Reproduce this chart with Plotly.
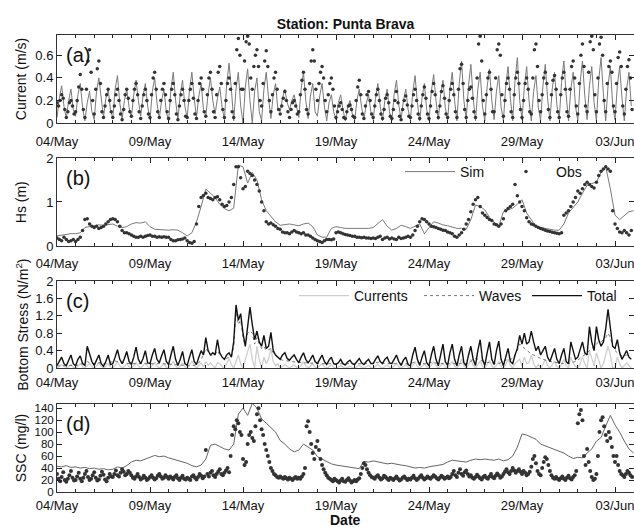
import pandas as pd
import plotly.graph_objects as go

# ---------------- data ----------------
# (a) current speed, simulated every 3 h, observed every 2 h  (m/s)
cur_sim = [
 0.05,0.22,0.33,0.15,0.04,0.20,0.30,0.12,
 0.06,0.25,0.35,0.14,0.02,0.18,0.28,0.10,
 0.03,0.28,0.40,0.20,0.05,0.22,0.30,0.12,
 0.04,0.30,0.42,0.18,0.03,0.20,0.30,0.14,
 0.05,0.25,0.38,0.20,0.06,0.24,0.35,0.15,
 0.03,0.28,0.40,0.18,0.04,0.20,0.30,0.10,
 0.02,0.30,0.45,0.20,0.03,0.25,0.38,0.15,
 0.04,0.30,0.45,0.22,0.05,0.24,0.35,0.12,
 0.06,0.26,0.40,0.20,0.08,0.22,0.32,0.14,
 0.03,0.35,0.53,0.30,0.02,0.30,0.45,0.15,
 0.00,0.32,0.48,0.20,0.00,0.28,0.40,0.10,
 0.02,0.30,0.45,0.22,0.04,0.25,0.35,0.12,
 0.10,0.22,0.30,0.18,0.12,0.20,0.25,0.15,
 0.05,0.30,0.45,0.20,0.04,0.24,0.35,0.10,
 0.06,0.24,0.35,0.15,0.02,0.18,0.25,0.10,
 0.03,0.18,0.25,0.12,0.02,0.14,0.20,0.08,
 0.02,0.20,0.30,0.14,0.03,0.17,0.25,0.10,
 0.03,0.22,0.35,0.15,0.02,0.20,0.30,0.10,
 0.02,0.25,0.38,0.16,0.03,0.20,0.30,0.12,
 0.03,0.27,0.42,0.18,0.02,0.22,0.35,0.12,
 0.02,0.28,0.43,0.20,0.03,0.25,0.38,0.14,
 0.02,0.30,0.45,0.20,0.02,0.35,0.55,0.20,
 0.03,0.33,0.52,0.22,0.02,0.30,0.45,0.15,
 0.02,0.32,0.48,0.20,0.03,0.28,0.42,0.14,
 0.02,0.33,0.50,0.22,0.02,0.38,0.58,0.20,
 0.03,0.32,0.50,0.20,0.02,0.28,0.42,0.14,
 0.02,0.33,0.52,0.22,0.02,0.30,0.45,0.16,
 0.03,0.36,0.55,0.25,0.02,0.30,0.45,0.15,
 0.02,0.36,0.55,0.24,0.03,0.33,0.50,0.18,
 0.02,0.38,0.58,0.26,0.02,0.33,0.50,0.16,
 0.03,0.33,0.50,0.22,0.02,0.30,0.45,0.15,
]
cur_obs = [
 0.18,0.15,0.20,0.25,0.22,0.12,0.05,0.10,0.18,0.20,0.15,0.08,
 0.10,0.20,0.32,0.43,0.30,0.12,0.05,0.30,0.55,0.65,0.45,0.20,
 0.08,0.30,0.48,0.55,0.35,0.10,0.05,0.15,0.25,0.30,0.20,0.10,
 0.05,0.15,0.25,0.30,0.20,0.08,0.03,0.12,0.25,0.30,0.22,0.10,
 0.06,0.20,0.30,0.35,0.25,0.10,0.04,0.15,0.25,0.30,0.20,0.08,
 0.05,0.25,0.40,0.45,0.30,0.10,0.05,0.20,0.30,0.35,0.25,0.10,
 0.04,0.20,0.30,0.35,0.25,0.08,0.03,0.15,0.25,0.30,0.20,0.06,
 0.05,0.20,0.30,0.35,0.22,0.08,0.04,0.20,0.35,0.40,0.30,0.10,
 0.06,0.25,0.40,0.45,0.30,0.10,0.05,0.25,0.45,0.50,0.35,0.12,
 0.05,0.20,0.35,0.40,0.30,0.10,0.05,0.35,0.65,0.75,0.60,0.30,
 0.30,0.55,0.72,0.77,0.70,0.40,0.30,0.50,0.60,0.65,0.50,0.20,
 0.15,0.35,0.55,0.64,0.50,0.20,0.10,0.25,0.40,0.45,0.30,0.12,
 0.08,0.15,0.22,0.28,0.20,0.10,0.05,0.12,0.18,0.20,0.15,0.08,
 0.10,0.25,0.38,0.45,0.30,0.12,0.08,0.35,0.55,0.65,0.55,0.30,
 0.20,0.35,0.45,0.50,0.40,0.20,0.10,0.25,0.35,0.40,0.30,0.15,
 0.05,0.10,0.15,0.18,0.12,0.05,0.04,0.10,0.15,0.16,0.12,0.06,
 0.05,0.20,0.32,0.38,0.25,0.08,0.04,0.15,0.25,0.28,0.20,0.08,
 0.05,0.15,0.25,0.30,0.20,0.08,0.04,0.12,0.22,0.25,0.18,0.06,
 0.04,0.12,0.20,0.28,0.18,0.06,0.03,0.12,0.20,0.24,0.16,0.06,
 0.05,0.15,0.25,0.30,0.20,0.08,0.04,0.15,0.25,0.32,0.22,0.08,
 0.04,0.15,0.28,0.35,0.25,0.10,0.05,0.15,0.28,0.33,0.22,0.08,
 0.05,0.20,0.30,0.35,0.25,0.10,0.05,0.30,0.48,0.52,0.35,0.12,
 0.05,0.20,0.30,0.32,0.22,0.10,0.05,0.40,0.70,0.77,0.55,0.20,
 0.08,0.25,0.40,0.45,0.30,0.10,0.10,0.40,0.65,0.70,0.60,0.25,
 0.06,0.20,0.35,0.40,0.30,0.10,0.05,0.25,0.40,0.45,0.35,0.12,
 0.05,0.20,0.35,0.40,0.30,0.10,0.08,0.40,0.65,0.70,0.50,0.20,
 0.10,0.25,0.40,0.45,0.35,0.12,0.05,0.25,0.38,0.42,0.30,0.10,
 0.05,0.25,0.40,0.45,0.30,0.10,0.06,0.30,0.50,0.55,0.40,0.15,
 0.08,0.35,0.60,0.70,0.50,0.15,0.10,0.45,0.72,0.77,0.65,0.25,
 0.10,0.40,0.70,0.76,0.60,0.20,0.10,0.35,0.50,0.55,0.45,0.15,
 0.10,0.35,0.58,0.63,0.50,0.15,0.08,0.30,0.50,0.56,0.40,0.12,
]

# (b) significant wave height: simulated every 6 h, observed every 3 h (m)
hs_sim = [
 0.23,0.25,0.27,0.28, 0.28,0.30,0.42,0.44, 0.46,0.48,0.47,0.49,
 0.50,0.45,0.42,0.44, 0.50,0.53,0.52,0.55, 0.44,0.38,0.37,0.36,
 0.36,0.37,0.36,0.30, 0.23,0.30,0.55,0.90, 1.29,1.20,1.10,0.95,
 0.85,0.80,0.86,1.84, 1.80,1.43,1.67,1.50, 1.05,0.80,0.67,0.55,
 0.47,0.48,0.50,0.48, 0.46,0.50,0.52,0.44, 0.25,0.20,0.20,0.40,
 0.44,0.42,0.40,0.40, 0.40,0.41,0.40,0.40, 0.42,0.50,0.60,0.45,
 0.36,0.40,0.47,0.44, 0.40,0.45,0.50,0.28, 0.42,0.55,0.52,0.48,
 0.46,0.43,0.40,0.40, 0.38,0.60,0.93,0.90, 0.82,0.65,0.55,0.44,
 0.78,0.82,0.86,0.95, 1.05,0.75,0.60,0.44, 0.42,0.40,0.38,0.36,
 0.36,0.50,0.75,0.88, 1.00,1.20,1.38,1.42, 1.45,1.67,1.80,1.30,
 0.70,0.60,0.70,0.78, 0.80,
]
hs_obs = [
 0.18,0.15,0.12,0.20,0.15,0.10,0.12,0.15,
 0.10,0.15,0.20,0.35,0.60,0.62,0.50,0.45,
 0.42,0.45,0.40,0.42,0.45,0.50,0.55,0.60,
 0.62,0.60,0.55,0.45,0.35,0.30,0.30,0.28,
 0.25,0.22,0.20,0.20,0.22,0.20,0.22,0.24,
 0.25,0.22,0.22,0.20,0.21,0.20,0.21,0.20,
 0.20,0.15,0.12,0.12,0.14,0.15,0.16,0.18,
 0.12,0.08,0.06,0.10,0.50,0.90,1.10,1.15,
 1.20,1.10,1.08,1.05,1.10,1.12,1.05,0.95,
 0.90,0.92,1.00,1.10,1.40,1.80,1.80,1.55,
 1.30,1.35,1.70,1.65,1.60,1.50,1.40,1.25,
 1.00,0.80,0.55,0.50,0.52,0.48,0.45,0.40,
 0.38,0.32,0.30,0.30,0.28,0.32,0.35,0.32,
 0.30,0.28,0.30,0.25,0.25,0.22,0.18,0.15,
 0.12,0.10,0.08,0.12,0.15,0.15,0.14,0.16,
 0.30,0.32,0.30,0.28,0.26,0.25,0.24,0.22,
 0.22,0.20,0.20,0.19,0.20,0.18,0.18,0.17,
 0.18,0.17,0.20,0.22,0.15,0.18,0.20,0.16,
 0.18,0.16,0.15,0.20,0.17,0.18,0.20,0.22,
 0.20,0.25,0.35,0.45,0.55,0.62,0.60,0.55,
 0.50,0.45,0.44,0.42,0.40,0.38,0.36,0.35,
 0.32,0.30,0.28,0.22,0.20,0.25,0.30,0.38,
 0.50,0.60,0.78,0.95,1.05,1.10,0.90,0.75,
 0.70,0.65,0.60,0.58,0.50,0.48,0.45,0.50,
 0.62,0.80,0.85,0.90,0.95,1.40,1.14,1.00,
 0.90,0.80,0.64,0.55,0.50,0.48,0.45,0.42,
 0.40,0.38,0.36,0.34,0.33,0.31,0.30,0.29,
 0.28,0.30,0.70,0.75,0.80,0.90,1.00,1.10,
 1.25,1.20,1.30,1.40,1.45,1.40,1.35,1.32,
 1.45,1.60,1.70,1.75,1.80,1.75,1.70,0.80,
 0.50,0.40,0.32,0.30,0.35,0.30,0.25,0.35,
]

# (c) bottom stress components every 3 h (N/m2)
tau_cur = [
 0,0.03,0.08,0.03,0,0.03,0.08,0.02,
 0,0.04,0.10,0.03,0,0.05,0.12,0.03,
 0,0.05,0.12,0.04,0,0.04,0.10,0.03,
 0,0.06,0.14,0.05,0,0.04,0.10,0.03,
 0,0.05,0.12,0.05,0,0.05,0.12,0.04,
 0,0.06,0.13,0.05,0,0.04,0.10,0.02,
 0,0.07,0.16,0.05,0,0.05,0.12,0.03,
 0,0.07,0.16,0.06,0,0.05,0.12,0.03,
 0.15,0.06,0.12,0.05,0,0.12,0.10,0.03,
 0,0.10,0.22,0.08,0,0.15,0.30,0.10,
 0,0.20,0.35,0.55,0.20,0,0.50,0.20,
 0,0.25,0.10,0.20,0.45,0.15,0.05,0.10,
 0,0.04,0.08,0.04,0,0.04,0.07,0.02,
 0,0.06,0.15,0.05,0,0.04,0.10,0.02,
 0,0.05,0.10,0.03,0,0.03,0.07,0.02,
 0,0.02,0.05,0.02,0,0.02,0.04,0.01,
 0,0.03,0.07,0.02,0,0.03,0.06,0.01,
 0,0.04,0.09,0.03,0,0.03,0.07,0.02,
 0,0.05,0.11,0.03,0,0.03,0.08,0.02,
 0,0.06,0.14,0.04,0,0.04,0.10,0.03,
 0,0.06,0.15,0.05,0,0.05,0.12,0.03,
 0,0.07,0.16,0.05,0,0.07,0.20,0.05,
 0,0.08,0.20,0.06,0,0.07,0.16,0.04,
 0,0.08,0.18,0.05,0,0.06,0.14,0.04,
 0,0.08,0.20,0.06,0,0.10,0.15,0.20,
 0.05,0.25,0.10,0.12,0.30,0.10,0,0.08,
 0,0.08,0.20,0.06,0,0.07,0.16,0.04,
 0,0.08,0.20,0.06,0,0.25,0.12,0.04,
 0,0.10,0.25,0.10,0,0.40,0.20,0.05,
 0.35,0.15,0,0.10,0.30,0.50,0.30,0,
 0,0.25,0.10,0,0.05,0.12,0.05,0,
]
tau_wav = [
 0.05,0.05,0.06,0.06,0.05,0.05,0.06,0.06,
 0.06,0.07,0.08,0.10,0.12,0.15,0.12,0.10,
 0.10,0.10,0.12,0.12,0.10,0.10,0.12,0.14,
 0.15,0.16,0.15,0.14,0.12,0.12,0.10,0.10,
 0.10,0.10,0.11,0.10,0.10,0.10,0.10,0.10,
 0.10,0.10,0.10,0.10,0.10,0.10,0.10,0.09,
 0.09,0.09,0.08,0.08,0.07,0.07,0.06,0.06,
 0.05,0.05,0.05,0.06,0.08,0.12,0.20,0.30,
 0.45,0.38,0.30,0.28,0.30,0.40,0.30,0.25,
 0.20,0.22,0.25,0.25,0.50,1.30,1.00,1.10,
 0.70,0.50,0.80,0.85,0.80,0.55,0.70,0.55,
 0.45,0.50,0.40,0.42,0.45,0.35,0.30,0.25,
 0.20,0.18,0.17,0.16,0.15,0.15,0.14,0.14,
 0.13,0.13,0.12,0.12,0.12,0.11,0.11,0.10,
 0.10,0.10,0.10,0.10,0.09,0.09,0.09,0.09,
 0.10,0.10,0.10,0.10,0.10,0.10,0.10,0.10,
 0.10,0.10,0.10,0.10,0.10,0.10,0.10,0.10,
 0.12,0.12,0.13,0.14,0.12,0.10,0.10,0.10,
 0.10,0.10,0.10,0.10,0.10,0.10,0.10,0.10,
 0.10,0.12,0.14,0.14,0.12,0.10,0.10,0.10,
 0.12,0.13,0.12,0.12,0.11,0.10,0.10,0.10,
 0.10,0.10,0.10,0.10,0.10,0.10,0.10,0.10,
 0.10,0.12,0.15,0.20,0.22,0.20,0.18,0.15,
 0.14,0.13,0.12,0.12,0.11,0.10,0.10,0.12,
 0.15,0.18,0.20,0.20,0.22,0.30,0.40,0.55,
 0.50,0.45,0.40,0.35,0.32,0.30,0.27,0.25,
 0.22,0.20,0.18,0.16,0.15,0.14,0.13,0.12,
 0.12,0.11,0.10,0.10,0.10,0.12,0.13,0.15,
 0.18,0.22,0.25,0.30,0.35,0.40,0.45,0.50,
 0.55,0.60,0.60,0.65,0.70,0.80,0.70,0.50,
 0.40,0.35,0.30,0.28,0.28,0.30,0.30,0.30,
]
tau_tot = [
 0.06,0.15,0.25,0.10,0.05,0.18,0.30,0.10,
 0.05,0.20,0.28,0.10,0.06,0.50,0.30,0.15,
 0.06,0.20,0.30,0.10,0.04,0.15,0.30,0.08,
 0.10,0.25,0.42,0.20,0.10,0.22,0.38,0.15,
 0.08,0.25,0.48,0.20,0.10,0.22,0.40,0.12,
 0.10,0.30,0.45,0.20,0.12,0.28,0.42,0.15,
 0.08,0.30,0.50,0.20,0.06,0.20,0.38,0.10,
 0.06,0.25,0.42,0.15,0.08,0.25,0.40,0.30,
 0.70,0.40,0.30,0.35,0.30,0.65,0.35,0.25,
 0.20,0.30,0.35,0.25,0.60,1.45,1.10,1.25,
 0.80,0.50,0.90,1.40,1.00,0.65,0.85,0.60,
 0.50,0.75,0.45,0.50,0.82,0.40,0.30,0.25,
 0.20,0.30,0.35,0.22,0.18,0.25,0.30,0.20,
 0.12,0.25,0.35,0.20,0.12,0.20,0.30,0.15,
 0.10,0.20,0.30,0.15,0.08,0.18,0.25,0.10,
 0.08,0.12,0.20,0.10,0.07,0.14,0.18,0.10,
 0.08,0.15,0.22,0.12,0.08,0.15,0.20,0.10,
 0.10,0.20,0.28,0.15,0.10,0.20,0.25,0.12,
 0.10,0.20,0.30,0.15,0.06,0.18,0.25,0.08,
 0.05,0.30,0.48,0.20,0.06,0.25,0.40,0.12,
 0.05,0.30,0.50,0.20,0.05,0.30,0.55,0.15,
 0.06,0.35,0.55,0.20,0.05,0.30,0.50,0.12,
 0.05,0.30,0.50,0.20,0.06,0.40,0.65,0.20,
 0.06,0.35,0.60,0.20,0.08,0.40,0.62,0.20,
 0.05,0.25,0.45,0.15,0.10,0.30,0.45,0.75,
 0.55,0.80,0.55,0.60,0.85,0.60,0.40,0.50,
 0.30,0.40,0.50,0.25,0.15,0.30,0.45,0.20,
 0.10,0.30,0.45,0.15,0.10,0.60,0.40,0.20,
 0.25,0.45,0.60,0.35,0.30,0.95,0.60,0.40,
 0.95,0.65,0.50,0.60,0.90,1.35,0.90,0.50,
 0.45,0.65,0.35,0.20,0.30,0.40,0.25,0.20,
]

# (d) suspended sediment concentration: simulated every 6 h, observed every 2 h (mg/l)
ssc_sim = [
 43,42,44,41, 42,40,41,39, 40,38,39,37, 38,42,40,44,
 50,53,52,55, 58,61,59,60, 57,55,53,50, 48,44,42,45,
 55,78,80,76, 72,70,80,130, 140,128,148,140, 122,115,108,100,
 86,80,72,67, 70,80,75,70, 59,55,51,47, 45,44,42,41,
 40,39,51,50, 52,50,49,47, 48,46,45,44, 42,40,41,40,
 42,43,44,46, 50,53,52,51, 50,53,55,54, 55,54,53,55,
 52,54,60,75, 97,95,92,88, 80,77,74,71, 68,65,60,56,
 58,57,65,72, 85,91,110,128, 112,100,85,72, 65,
]
ssc_obs = [
 30,22,18,25,33,20,17,22,28,35,24,19,
 20,26,32,22,18,24,30,35,25,20,22,28,
 33,24,19,21,27,34,29,21,18,24,30,26,
 25,30,36,28,26,32,38,34,28,30,35,32,
 28,24,22,26,30,25,21,23,27,24,20,22,
 25,28,24,21,23,27,30,26,22,24,28,25,
 22,26,24,21,25,28,23,20,24,27,22,21,
 24,22,20,26,28,24,21,25,30,27,23,26,
 70,30,26,32,35,28,25,30,34,38,30,28,
 32,36,40,33,60,95,110,105,120,115,100,95,
 55,45,50,80,95,100,90,85,110,130,140,120,
 105,95,80,70,60,50,40,35,30,28,25,24,
 26,24,22,25,23,21,24,22,20,23,25,22,
 24,22,26,30,40,110,118,100,80,65,55,75,
 85,70,55,45,38,32,28,24,22,20,18,22,
 20,18,16,19,22,18,17,20,23,19,16,18,
 20,18,21,23,30,40,48,45,38,32,28,25,
 24,22,26,28,24,21,23,27,25,22,20,24,
 22,20,23,26,22,19,21,24,26,23,20,22,
 21,24,27,23,20,22,25,28,24,21,23,26,
 24,22,25,28,26,23,21,24,27,25,22,24,
 26,23,25,30,35,28,25,32,38,30,27,33,
 36,30,26,28,24,22,25,29,26,23,21,25,
 27,24,22,26,30,25,23,27,31,28,24,26,
 30,34,38,33,30,35,40,36,32,35,38,34,
 30,35,32,28,30,34,42,55,60,48,35,30,
 28,40,50,58,55,45,35,28,24,22,25,22,
 20,23,26,22,20,24,27,23,21,25,28,35,
 115,130,137,120,60,45,72,50,35,25,20,22,
 30,60,100,120,125,110,95,85,100,90,75,60,
 50,60,45,35,30,28,25,30,35,32,28,25,
]

START = "2013-05-04"
t_cur_sim = pd.date_range(START, periods=len(cur_sim), freq="3h")
t_cur_obs = pd.date_range(START, periods=len(cur_obs), freq="2h")
t_hs_sim = pd.date_range(START, periods=len(hs_sim), freq="6h")
t_hs_obs = pd.date_range(START, periods=len(hs_obs), freq="3h")
t_tau = pd.date_range(START, periods=len(tau_tot), freq="3h")
t_ssc_sim = pd.date_range(START, periods=len(ssc_sim), freq="6h")
t_ssc_obs = pd.date_range(START, periods=len(ssc_obs), freq="2h")

# ---------------- figure ----------------
SIM_C = "#7a7a7a"
OBS_C = "#333333"
FONT = "Liberation Sans, Arial, sans-serif"

fig = go.Figure()
fig.add_trace(go.Scatter(x=t_cur_sim, y=cur_sim, mode="lines", line=dict(color=SIM_C, width=1),
                         showlegend=False, xaxis="x", yaxis="y"))
fig.add_trace(go.Scatter(x=t_cur_obs, y=cur_obs, mode="markers", marker=dict(color=OBS_C, size=3.5),
                         showlegend=False, xaxis="x", yaxis="y"))

fig.add_trace(go.Scatter(x=t_hs_sim, y=hs_sim, mode="lines", name="Sim", line=dict(color=SIM_C, width=1),
                         xaxis="x2", yaxis="y2", legend="legend"))
fig.add_trace(go.Scatter(x=t_hs_obs, y=hs_obs, mode="markers", name="Obs", marker=dict(color=OBS_C, size=3.5),
                         xaxis="x2", yaxis="y2", legend="legend2"))

fig.add_trace(go.Scatter(x=t_tau, y=tau_cur, mode="lines", name="Currents", line=dict(color="#cfcfcf", width=1.3),
                         xaxis="x3", yaxis="y3", legend="legend3"))
fig.add_trace(go.Scatter(x=t_tau, y=tau_wav, mode="lines", name="Waves", line=dict(color="#777777", width=1, dash="dot"),
                         xaxis="x3", yaxis="y3", legend="legend4"))
fig.add_trace(go.Scatter(x=t_tau, y=tau_tot, mode="lines", name="Total", line=dict(color="#111111", width=1.4),
                         xaxis="x3", yaxis="y3", legend="legend5"))

fig.add_trace(go.Scatter(x=t_ssc_sim, y=ssc_sim, mode="lines", line=dict(color="#666666", width=1),
                         showlegend=False, xaxis="x4", yaxis="y4"))
fig.add_trace(go.Scatter(x=t_ssc_obs, y=ssc_obs, mode="markers", marker=dict(color=OBS_C, size=4),
                         showlegend=False, xaxis="x4", yaxis="y4"))

XR = ["2013-05-04 00:00", "2013-06-04 00:30"]
def xax(anchor, standoff):
    return dict(anchor=anchor, range=XR, type="date", tick0="2013-05-04", dtick=5 * 86400000,
                tickformat="%d/%b", ticks="inside", ticklen=5, tickcolor="#222",
                showline=True, linecolor="#333", linewidth=1, mirror="ticks", showgrid=False,
                zeroline=False, tickfont=dict(size=13, color="#111"), ticklabeloverflow="allow",
                ticklabelstandoff=standoff,
                minor=dict(dtick=86400000, ticks="inside", ticklen=3, tickcolor="#222", showgrid=False))

def yax(anchor, dom, rng, vals, texts, fs=13):
    return dict(anchor=anchor, domain=dom, range=rng, tickvals=vals, ticktext=texts,
                ticks="inside", ticklen=5, tickcolor="#222", showline=True, linecolor="#333",
                linewidth=1, mirror="ticks", showgrid=False, zeroline=False,
                tickfont=dict(size=fs, color="#111"))

def leg(xpx, ypx):
    return dict(x=(xpx - 57) / 577, y=(492 - ypx) / 457, xanchor="left", yanchor="middle",
                bgcolor="rgba(0,0,0,0)", font=dict(size=14, color="#111"), itemwidth=50,
                tracegroupgap=0)

fig.update_layout(
    width=634, height=527,
    margin=dict(l=57, r=0, t=35, b=35),
    paper_bgcolor="white", plot_bgcolor="white",
    font=dict(family=FONT, size=13, color="#111"),
    title=dict(text="<b>Station: Punta Brava</b>", x=0.5, xref="paper", y=0.964, yref="container",
               xanchor="center", font=dict(size=14)),
    xaxis=xax("y", 6), xaxis2=xax("y2", 5), xaxis3=xax("y3", 2), xaxis4=xax("y4", 1),
    yaxis=yax("x", [0.8074, 1.0], [0, 0.78], [0, 0.2, 0.4, 0.6], ["0", "0.2", "0.4", "0.6"]),
    yaxis2=yax("x2", [0.5383, 0.7309], [0, 2], [0, 1, 2], ["0", "1", "2"]),
    yaxis3=yax("x3", [0.2713, 0.4617], [0, 2], [0, 0.4, 0.8, 1.2, 1.6, 2],
               ["0", "0.4", "0.8", "1.2", "1.6", "2"]),
    yaxis4=yax("x4", [0.0, 0.1926], [0, 147], [0, 20, 40, 60, 80, 100, 120, 140],
               ["0", "20", "40", "60", "80", "100", "120", "140"], fs=11.5),
    legend=leg(400, 172),
    legend2=leg(496, 172),
    legend3=leg(294, 296),
    legend4=leg(419, 296),
    legend5=leg(527, 296),
)

ann = []
for txt, yy in [("(a)", 0.985), ("(b)", 0.715), ("(c)", 0.447), ("(d)", 0.177)]:
    ann.append(dict(text=txt, x=0.012, y=yy, xref="paper", yref="paper", xanchor="left", yanchor="top",
                    showarrow=False, font=dict(size=20, color="#111")))
for txt, yy in [("Current (m/s)", 0.9037), ("Hs (m)", 0.6346), ("Bottom Stress (N/m<sup>2</sup>)", 0.3665),
                ("SSC (mg/l)", 0.0963)]:
    ann.append(dict(text=txt, x=-0.062, y=yy, xref="paper", yref="paper", xanchor="center", yanchor="middle",
                    textangle=-90, showarrow=False, font=dict(size=14, color="#111")))
ann.append(dict(text="<b>Date</b>", x=0.5, y=(492 - 520) / 457, xref="paper", yref="paper", xanchor="center",
                yanchor="middle", showarrow=False, font=dict(size=14, color="#111")))
fig.update_layout(annotations=ann)

fig.write_html("out.html")
